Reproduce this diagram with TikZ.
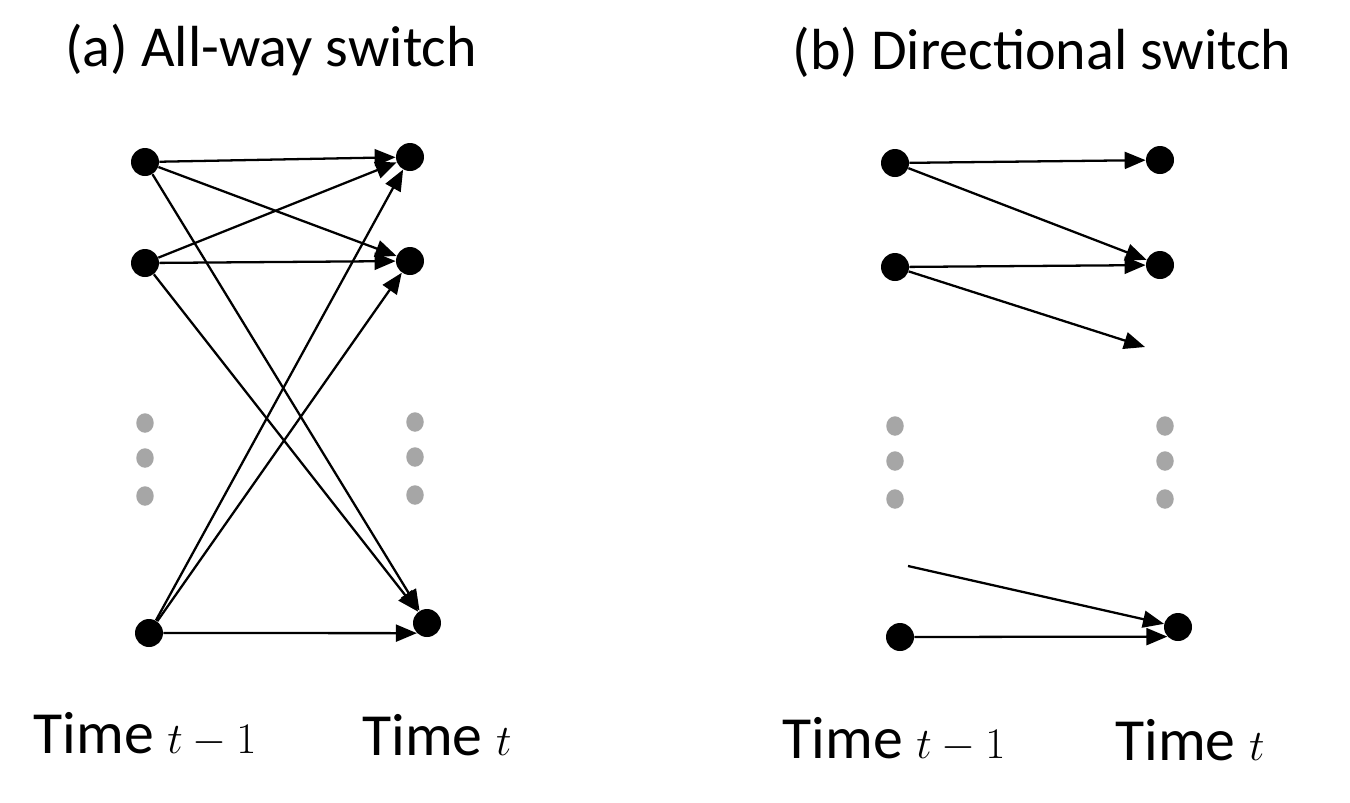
\documentclass[tikz,border=0pt]{standalone}
\usepackage{fontspec}
\setmainfont{Carlito}
\usetikzlibrary{arrows.meta,shapes.geometric}
\tikzset{
	dot/.style={circle, fill=black, inner sep=0pt, minimum size=0.56cm},
	gdot/.style={ellipse, fill=black!35, inner sep=0pt, minimum width=0.35cm, minimum height=0.39cm},
	link/.style={-{Triangle[length=0.42cm,width=0.34cm]}, line width=1.3pt},
	label/.style={font=\fontsize{34}{40}\selectfont}
}
\begin{document}
\begin{tikzpicture}[x=0.02cm, y=-0.02cm, font=\fontsize{33}{40}\selectfont]
			\useasboundingbox (0,0) rectangle (1350,802);

			% Titles
			\node (ta) at (271,50) {(a) All-way switch};
			\node (tb) at (1042,52) {(b) Directional switch};

			% All-way switch: nodes at time t-1 and t
			\node[dot] (l1) at (145,162) {};
			\node[dot] (l2) at (145,263) {};
			\node[dot] (l3) at (149,633) {};
			\node[dot] (r1) at (410,157) {};
			\node[dot] (r2) at (410,261) {};
			\node[dot] (r3) at (427,623) {};
			\foreach \y [count=\i] in {423,458,496} {
				\node[gdot] (lg\i) at (145,\y) {};
				\node[gdot] (rg\i) at (415,\y-1) {};
			}

			% Every node links to every node
			\foreach \a in {1,2,3}
				\foreach \b in {1,2}
					\draw[link] (l\a) -- (r\b);
			\draw[link] (l1) -- (r3);
			\draw[link] (l2) -- (r3);
			\draw[link] (l3) -- (r3.225);

			% Directional switch: nodes at time t-1 and t
			\node[dot] (p1) at (895,163) {};
			\node[dot] (p2) at (895,267) {};
			\node[dot] (p3) at (900,637) {};
			\node[dot] (q1) at (1160,160) {};
			\node[dot] (q2) at (1160,265) {};
			\node[dot] (q3) at (1178,627) {};
			\foreach \y [count=\i] in {426,461,499} {
				\node[gdot] (pg\i) at (895,\y) {};
				\node[gdot] (qg\i) at (1165,\y) {};
			}
			\coordinate (out) at (1145,347);
			\coordinate (in) at (908,566);

			% Links to the same or the next node only
			\draw[link] (p1) -- (q1);
			\draw[link] (p1) -- (q2);
			\draw[link] (p2) -- (q2);
			\draw[link] (p2) -- (out);
			\draw[link] (in) -- (q3);
			\draw[link] (p3) -- (q3.222);

			% Time labels
			\node[label] (t0a) at (145,735) {Time $t-1$};
			\node[label] (t1a) at (437,735) {Time $t$};
			\node[label] (t0b) at (894,740) {Time $t-1$};
			\node[label] (t1b) at (1190,740) {Time $t$};
		\end{tikzpicture}
\end{document}
